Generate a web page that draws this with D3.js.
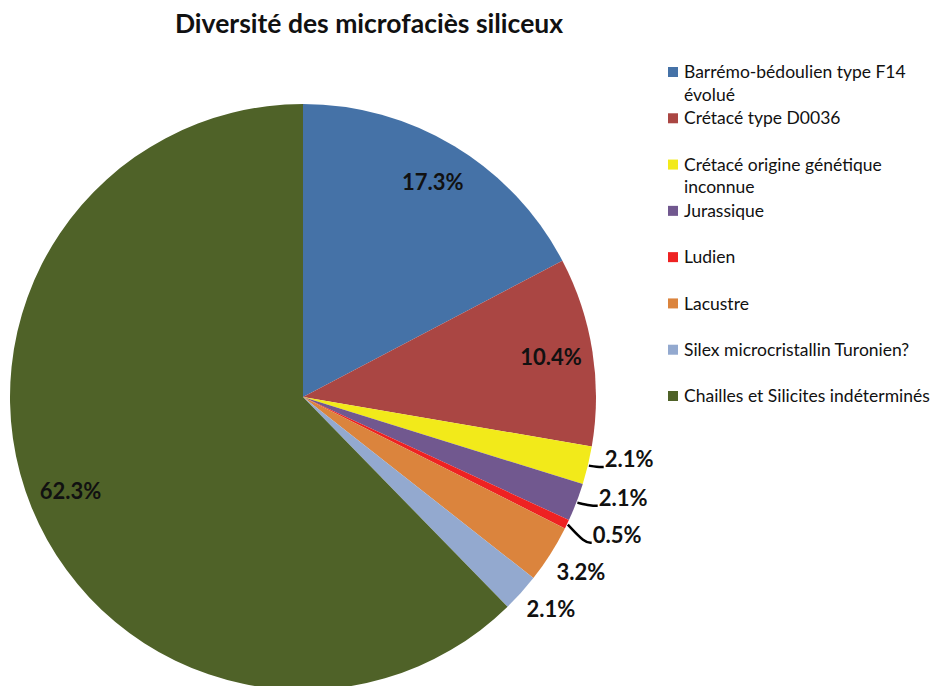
<!DOCTYPE html>
<html>
<head>
<meta charset="utf-8">
<script src="https://cdn.jsdelivr.net/npm/d3@7"></script>
<style>
  html, body { margin: 0; padding: 0; background: #fff; }
  svg { display: block; }
  text { font-family: Lato, "Open Sans", sans-serif; }
</style>
</head>
<body>
<svg id="chart" width="935" height="686"></svg>
<script>
// Microfacies categories and their share of the assemblage (%)
const categories = [
  "Barrémo-bédoulien type F14 évolué",
  "Crétacé type D0036",
  "Crétacé origine génétique inconnue",
  "Jurassique",
  "Ludien",
  "Lacustre",
  "Silex microcristallin Turonien?",
  "Chailles et Silicites indéterminés"
];
const shares = [17.3, 10.4, 2.1, 2.1, 0.5, 3.2, 2.1, 62.3];
const colors = ["#4572A7", "#AA4643", "#F2EA1A", "#71588F", "#EE2222", "#DB843D", "#93A9CF", "#4F6228"];
const titleText = "Diversité des microfaciès siliceux";

const data = categories.map((c, i) => ({ name: c, value: shares[i], color: colors[i] }));

const svg = d3.select("#chart");
const cx = 303, cy = 397, R = 293;

// Title
svg.append("text")
  .attr("x", 369).attr("y", 33)
  .attr("text-anchor", "middle")
  .attr("font-size", 26.5).attr("font-weight", 700)
  .attr("fill", "#111")
  .text(titleText);

// Pie slices, clockwise from 12 o'clock
const pie = d3.pie().sort(null).value(d => d.value);
const arcs = pie(data);
const arc = d3.arc().innerRadius(0).outerRadius(R);

const g = svg.append("g").attr("transform", `translate(${cx},${cy})`);
g.selectAll("path.slice")
  .data(arcs)
  .join("path")
  .attr("class", "slice")
  .attr("d", arc)
  .attr("fill", d => d.data.color);

const fmt = v => d3.format(".1f")(v) + "%";
const mid = d => (d.startAngle + d.endAngle) / 2;
const labelSize = 22;

// Large slices: label inside
const insideArc = d3.arc().innerRadius(251).outerRadius(251);
const big = arcs.filter(d => d.value >= 5);
g.selectAll("text.inlabel")
  .data(big)
  .join("text")
  .attr("class", "inlabel")
  .attr("transform", d => `translate(${insideArc.centroid(d)})`)
  .attr("text-anchor", "middle")
  .attr("dy", "0.35em")
  .attr("font-size", labelSize).attr("font-weight", 700)
  .attr("fill", "#111")
  .text(d => fmt(d.value));

// Small slices: labels outside, stacked with a minimum vertical gap
const small = arcs.filter(d => d.value < 5);
const rl = 308, gap = 37;
const outs = small.map(d => ({ d, y: -Math.cos(mid(d)) * rl }));
const natural = d3.mean(outs, o => o.y);
for (let i = 1; i < outs.length; i++) {
  outs[i].y = Math.max(outs[i].y, outs[i - 1].y + gap);
}
const shift = d3.mean(outs, o => o.y) - natural;
outs.forEach(o => {
  o.y -= shift;
  o.x = Math.sqrt(Math.max(0, rl * rl - o.y * o.y));
});
// Labels sitting beside the thinnest wedges get a leader line
const withLeader = new Set([categories[2], categories[3], categories[4]]);
for (let i = 1; i < outs.length; i++) {
  const o = outs[i];
  if (withLeader.has(o.d.data.name)) o.x = Math.max(o.x, outs[i - 1].x - 6);
}

g.selectAll("path.leader")
  .data(outs.filter(o => withLeader.has(o.d.data.name)))
  .join("path")
  .attr("class", "leader")
  .attr("fill", "none")
  .attr("stroke", "#000")
  .attr("stroke-width", 2.5)
  .attr("d", o => {
    const a = mid(o.d);
    const p0 = [Math.sin(a) * (R + 1), -Math.cos(a) * (R + 1)];
    const yb = o.y + 8;
    return d3.line().curve(d3.curveBasis)([p0, [o.x - 8, yb], [o.x - 1, yb]]);
  });

g.selectAll("text.outlabel")
  .data(outs)
  .join("text")
  .attr("class", "outlabel")
  .attr("x", o => o.x)
  .attr("y", o => o.y)
  .attr("dy", "0.35em")
  .attr("font-size", labelSize).attr("font-weight", 700)
  .attr("fill", "#111")
  .text(o => fmt(o.d.value));

// Legend
const legendX = 668;
const ly = d3.scalePoint().domain(categories).range([72, 396]);
const maxW = 251;
const leg = svg.append("g");
categories.forEach((c, i) => {
  const y = ly(c);
  leg.append("rect")
    .attr("x", legendX).attr("y", y - 5)
    .attr("width", 10).attr("height", 10)
    .attr("fill", colors[i]);
  const t = leg.append("text")
    .attr("x", legendX + 16).attr("y", y)
    .attr("dy", "0.35em")
    .attr("font-size", 17.5)
    .attr("fill", "#111");
  // wrap words to the available width
  const words = c.split(" ");
  let line = [];
  let tspan = t.append("tspan").attr("x", legendX + 16);
  words.forEach(w => {
    line.push(w);
    tspan.text(line.join(" "));
    if (tspan.node().getComputedTextLength() > maxW && line.length > 1) {
      line.pop();
      tspan.text(line.join(" "));
      line = [w];
      tspan = t.append("tspan").attr("x", legendX + 16).attr("dy", 22.5).text(w);
    }
  });
});
</script>
</body>
</html>
